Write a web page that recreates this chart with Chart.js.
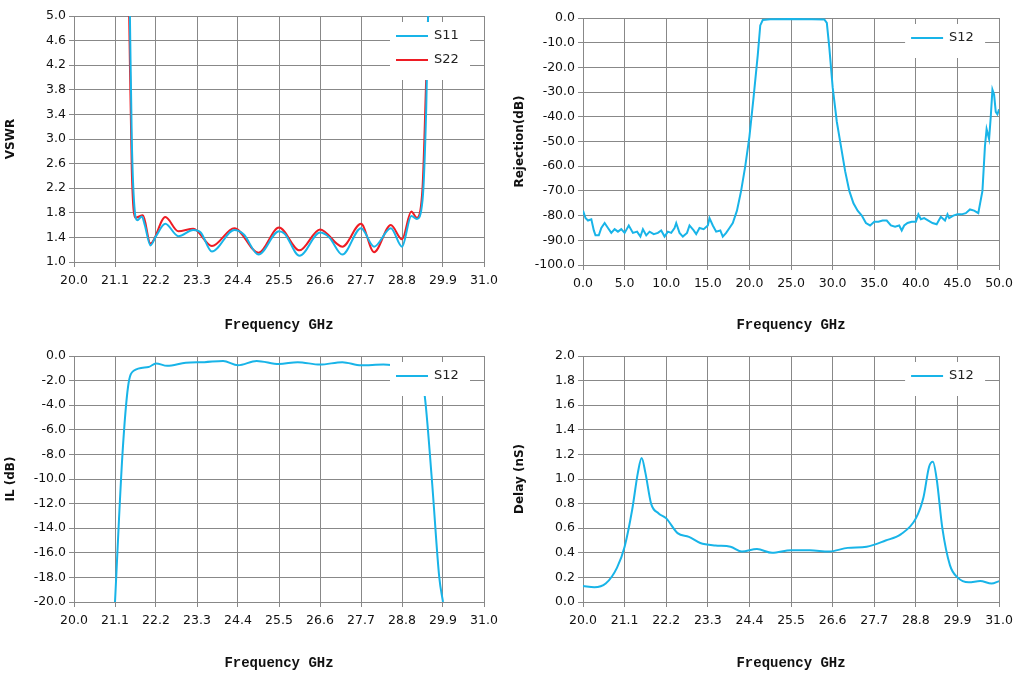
<!DOCTYPE html>
<html><head><meta charset="utf-8">
<script src="https://cdn.jsdelivr.net/npm/chart.js@4"></script>
<style>
body{margin:0;background:#fff;width:1019px;height:676px;overflow:hidden}
.c{position:absolute;width:510px;height:338px}
</style></head><body>
<div class="c" style="left:0;top:0"><canvas id="c1"></canvas></div>
<div class="c" style="left:509px;top:0"><canvas id="c2"></canvas></div>
<div class="c" style="left:0;top:338px"><canvas id="c3"></canvas></div>
<div class="c" style="left:509px;top:338px"><canvas id="c4"></canvas></div>
<script>
const freqTicks=[20.0,21.1,22.2,23.3,24.4,25.5,26.6,27.7,28.8,29.9,31.0];
const rejTicks=[0,5,10,15,20,25,30,35,40,45,50];
const vswrS11=[[21.5,5],[21.55,3],[21.62,1.9],[21.7,1.68],[21.82,1.74],[21.9,1.6],[22.05,1.27],[22.2,1.42],[22.45,1.62],[22.8,1.42],[23.2,1.52],[23.4,1.48],[23.7,1.17],[24.3,1.52],[24.55,1.45],[24.95,1.12],[25.5,1.5],[25.65,1.46],[26.05,1.1],[26.6,1.48],[26.85,1.4],[27.2,1.12],[27.7,1.55],[28.05,1.25],[28.5,1.55],[28.8,1.25],[29.05,1.75],[29.2,1.7],[29.35,2.0],[29.45,3.5],[29.5,5]];
const vswrS22=[[21.48,5],[21.55,2.5],[21.65,1.72],[21.85,1.76],[22.05,1.3],[22.45,1.73],[22.8,1.5],[23.2,1.54],[23.7,1.26],[24.3,1.55],[24.95,1.15],[25.5,1.56],[26.05,1.19],[26.6,1.53],[27.2,1.25],[27.7,1.62],[28.05,1.16],[28.5,1.6],[28.8,1.37],[29.05,1.82],[29.2,1.72],[29.35,2.2],[29.45,4],[29.5,5]];
const rejS12=[[0,-78],[0.3,-81],[0.6,-82],[1,-81.5],[1.3,-86],[1.5,-88],[1.9,-88],[2.2,-85],[2.6,-83],[3,-85],[3.4,-87],[3.8,-85.5],[4.2,-86.5],[4.6,-85.5],[5,-87],[5.5,-84],[6,-87],[6.5,-86.5],[6.9,-88.5],[7.2,-85.5],[7.6,-88],[8,-86.5],[8.5,-87.5],[9,-87],[9.4,-86],[9.8,-88.5],[10.2,-86.5],[10.6,-87],[11,-85],[11.2,-83],[11.6,-87],[12,-88.5],[12.5,-87],[12.8,-84],[13.3,-86],[13.6,-87.5],[14,-85],[14.5,-85.5],[15,-84],[15.2,-81],[15.6,-84],[16,-86.5],[16.5,-86],[16.8,-88.5],[17.2,-87],[17.6,-85],[18,-83],[18.5,-78],[19,-70],[19.5,-60],[20,-48],[20.5,-32],[21,-15],[21.3,-3],[21.6,-0.8],[22.5,-0.5],[25,-0.4],[27.5,-0.5],[29,-0.6],[29.3,-2],[29.6,-12],[30,-28],[30.5,-42],[31,-52],[31.5,-62],[32,-70],[32.5,-75],[33,-78],[33.5,-80],[34,-83],[34.5,-84],[35,-82.5],[35.5,-82.5],[36,-82],[36.5,-82],[37,-84],[37.5,-84.5],[38,-84],[38.3,-86],[38.6,-84],[39,-83],[39.5,-82.5],[40,-82.5],[40.3,-79.5],[40.6,-81.5],[41,-81],[41.5,-82],[42,-83],[42.5,-83.5],[43,-80.5],[43.5,-82],[43.8,-79.5],[44,-81],[44.5,-80],[45,-79.5],[45.5,-79.5],[46,-79],[46.5,-77.5],[47,-78],[47.5,-79],[48,-70],[48.3,-52],[48.5,-45],[48.8,-49],[49,-40],[49.2,-29],[49.4,-31],[49.6,-38],[49.8,-39],[50,-37]];
const ilS12=[[21.1,-20],[21.3,-8],[21.45,-2.5],[21.6,-1.2],[22,-0.9],[22.2,-0.6],[22.5,-0.8],[23,-0.55],[23.5,-0.5],[24,-0.4],[24.4,-0.75],[24.9,-0.4],[25.5,-0.65],[26,-0.5],[26.6,-0.7],[27.2,-0.5],[27.7,-0.75],[28.3,-0.7],[28.8,-0.8],[29.2,-1],[29.4,-3],[29.6,-10],[29.8,-18],[29.9,-20]];
const delayS12=[[20,0.13],[20.3,0.12],[20.6,0.15],[20.9,0.28],[21.1,0.45],[21.3,0.75],[21.45,1.05],[21.55,1.17],[21.65,1.05],[21.8,0.8],[22,0.72],[22.2,0.68],[22.5,0.56],[22.8,0.53],[23.1,0.48],[23.5,0.46],[23.9,0.45],[24.2,0.41],[24.6,0.43],[25,0.4],[25.5,0.42],[26,0.42],[26.5,0.41],[27,0.44],[27.5,0.45],[28,0.5],[28.4,0.55],[28.8,0.68],[29.0,0.85],[29.15,1.1],[29.25,1.14],[29.35,1.0],[29.5,0.6],[29.7,0.3],[29.9,0.2],[30.2,0.16],[30.5,0.17],[30.8,0.15],[31,0.17]];

const BLUE='#18b4e8',RED='#ee1c24',GRID='#888';
const legendPlugin={id:'lg',afterDraw(ch){
  const ctx=ch.ctx,ca=ch.chartArea;const items=ch.data.datasets;
  const x0=ca.right-94,y0=ca.top+6;
  ctx.save();ctx.fillStyle='#fff';ctx.fillRect(x0,y0,80,items.length*24+10);
  items.forEach((d,i)=>{const y=y0+14+i*24;ctx.strokeStyle=d.borderColor;ctx.lineWidth=2;
    ctx.beginPath();ctx.moveTo(x0+6,y);ctx.lineTo(x0+38,y);ctx.stroke();
    ctx.fillStyle='#222';ctx.font='13px "DejaVu Sans"';ctx.textBaseline='middle';ctx.fillText(d.label,x0+44,y);});
  ctx.restore();}};
function mk(id,sets,xmin,xmax,xt,ymin,ymax,ystep,ytitle,pad,xh,tension){
  new Chart(document.getElementById(id),{type:'line',
   data:{datasets:sets.map(s=>({label:s[0],data:s[1].map(p=>({x:p[0],y:p[1]})),borderColor:s[2],borderWidth:2,pointRadius:0,tension:tension,cubicInterpolationMode:tension?'monotone':'default'}))},
   plugins:[legendPlugin],
   options:{responsive:false,animation:false,maintainAspectRatio:false,layout:{padding:pad},
    plugins:{legend:{display:false},tooltip:{enabled:false}},
    scales:{
     x:{type:'linear',min:xmin,max:xmax,afterBuildTicks:ax=>{ax.ticks=xt.map(v=>({value:v}));},afterFit:ax=>{ax.height=xh;},
      grid:{color:GRID,drawTicks:true,tickLength:5},border:{color:GRID},
      ticks:{color:'#111',font:{family:'DejaVu Sans',size:12.5},padding:6,maxRotation:0,autoSkip:false,callback:v=>v.toFixed(1)},
      title:{display:true,text:'Frequency GHz',color:'#111',font:{family:'Liberation Mono',size:14,weight:'bold'},padding:{top:6}}},
     y:{min:ymin,max:ymax,afterFit:ax=>{ax.width=74;},grid:{color:GRID,tickLength:5},border:{color:GRID},
      ticks:{stepSize:ystep,color:'#111',font:{family:'DejaVu Sans',size:12.5},callback:v=>v.toFixed(1)},
      title:{display:true,text:ytitle,color:'#111',font:{family:'DejaVu Sans',size:12,weight:'bold'},padding:{bottom:4}}}}}});
}
['c1','c2','c3','c4'].forEach(id=>{const c=document.getElementById(id);c.width=510;c.height=338;});
mk('c1',[['S11',vswrS11,BLUE],['S22',vswrS22,RED]],20,31,freqTicks,1,5,0.4,'VSWR',{top:16,right:26},76,0.35);
mk('c2',[['S12',rejS12,BLUE]],0,50,rejTicks,-100,0,10,'Rejection(dB)',{top:18,right:10},73,0);
mk('c3',[['S12',ilS12,BLUE]],20,31,freqTicks,-20,0,2,'IL (dB)',{top:18,right:26},74,0.35);
mk('c4',[['S12',delayS12,BLUE]],20,31,freqTicks,0,2,0.2,'Delay (nS)',{top:18,right:10},74,0.35);
</script></body></html>
